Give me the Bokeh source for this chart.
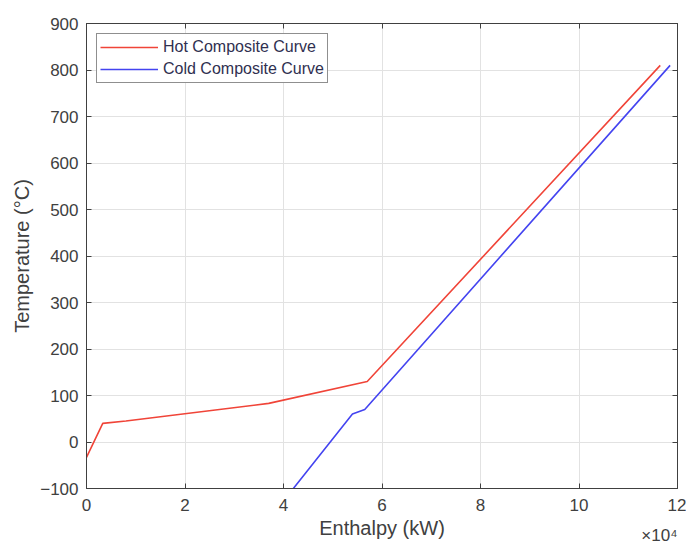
from bokeh.plotting import figure
from bokeh.models import LinearAxis, FixedTicker, CustomJSTickFormatter, Legend, LegendItem, Range1d, Title
from bokeh.embed import file_html
from bokeh.resources import INLINE

# Enthalpy in kW, temperature in degC
hot_h = [0, 3300, 8000, 37000, 57000, 116500]
hot_t = [-33, 40, 45, 83, 130, 810]
cold_h = [42000, 54000, 56500, 118500]
cold_t = [-100, 60, 70, 810]
x_ticks = [0, 20000, 40000, 60000, 80000, 100000, 120000]
y_ticks = [-100, 0, 100, 200, 300, 400, 500, 600, 700, 800, 900]

FONT = "Liberation Sans"
TXT = "#404040"

p = figure(width=686, height=545, output_backend="svg", toolbar_location=None,
           x_range=Range1d(0, 120000), y_range=Range1d(-100, 900),
           min_border_left=86, min_border_right=9, min_border_top=23, min_border_bottom=57)

r1 = p.line(hot_h, hot_t, line_color="#f04438", line_width=1.6)
r2 = p.line(cold_h, cold_t, line_color="#4444f0", line_width=1.6)

fmt = CustomJSTickFormatter(code="return (tick/1e4).toString();")
p.xaxis.ticker = FixedTicker(ticks=x_ticks)
p.yaxis.ticker = FixedTicker(ticks=y_ticks)
p.xaxis.formatter = fmt
p.xaxis.axis_label = "Enthalpy (kW)"
p.yaxis.axis_label = "Temperature (°C)"

for ax in p.axis:
    ax.major_tick_in = 5
    ax.major_tick_out = 0
    ax.minor_tick_line_color = None
    ax.axis_line_color = "#404040"
    ax.major_tick_line_color = "#404040"
    ax.major_label_text_font = FONT
    ax.major_label_text_font_size = "17px"
    ax.major_label_text_color = TXT
    ax.axis_label_text_font = FONT
    ax.axis_label_text_font_size = "20px"
    ax.axis_label_text_font_style = "normal"
    ax.axis_label_text_color = TXT

p.xaxis.major_label_standoff = 10
p.xaxis.axis_label_standoff = 3
p.yaxis.major_label_standoff = 8
p.yaxis.axis_label_standoff = 4

blank = CustomJSTickFormatter(code="return '';")
for loc, tk in (("above", x_ticks), ("right", y_ticks)):
    a = LinearAxis(ticker=FixedTicker(ticks=tk), formatter=blank, major_tick_in=5, major_tick_out=0,
                   minor_tick_line_color=None, axis_line_color="#404040",
                   major_tick_line_color="#404040", major_label_text_font_size="8px",
                   major_label_standoff=0)
    p.add_layout(a, loc)

p.xgrid.grid_line_color = "#e2e2e2"
p.ygrid.grid_line_color = "#e2e2e2"
p.outline_line_color = "#404040"

legend = Legend(items=[LegendItem(label="Hot Composite Curve", renderers=[r1]),
                       LegendItem(label="Cold Composite Curve", renderers=[r2])],
                location="top_left", label_text_font=FONT, label_text_font_size="16px",
                label_text_color="#303050", glyph_width=58, glyph_height=20,
                label_standoff=5, spacing=2, padding=3, margin=10,
                border_line_color="#202020", border_line_width=1,
                label_height=20)
p.add_layout(legend)

exp_title = Title(text="×10⁴", align="right", vertical_align="top", text_font=FONT,
                  text_font_size="17px", text_font_style="normal", text_color=TXT,
                  standoff=-31, offset=0)
p.add_layout(exp_title, "below")

open("out.html", "w").write(file_html(p, INLINE))
